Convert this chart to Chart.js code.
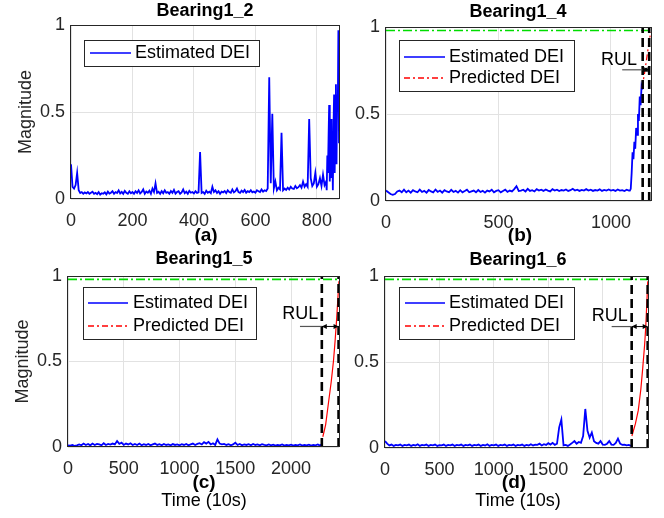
<!DOCTYPE html>
<html>
<head>
<meta charset="utf-8">
<script src="https://cdn.jsdelivr.net/npm/chart.js@4.4.1/dist/chart.umd.min.js"></script>
<style>
  html, body { margin: 0; padding: 0; background: #fff; }
  body { width: 664px; height: 518px; position: relative; overflow: hidden;
         font-family: "Liberation Sans", Arial, Helvetica, sans-serif; }
  canvas { position: absolute; }
  .lbl { position: absolute; white-space: nowrap; line-height: 1; color: #000;
         transform: translateX(-50%); }
</style>
</head>
<body>
<canvas id="c-a"></canvas>
<canvas id="c-b"></canvas>
<canvas id="c-c"></canvas>
<canvas id="c-d"></canvas>
<script>
// Four MATLAB-style degradation panels (estimated / predicted DEI with RUL marks).

// --------------- Data ---------------

const TITLES = ["Bearing1_2", "Bearing1_4", "Bearing1_5", "Bearing1_6"];
const SUBLABELS = ["(a)", "(b)", "(c)", "(d)"];
const X_LABEL = "Time (10s)";
const Y_LABEL = "Magnitude";
const LEGEND_EST = "Estimated DEI";
const LEGEND_PRED = "Predicted DEI";
const THRESHOLD = 0.98;

const Y_TICKS = [0, 0.5, 1];
const Y_TICK_LABELS = ["0", "0.5", "1"];
const B12_X_TICKS = [0, 200, 400, 600, 800];
const B14_X_TICKS = [0, 500, 1000];
const LONG_X_TICKS = [0, 500, 1000, 1500, 2000];

// Bearing1_2: every 5 samples up to 825, then every 2 samples.
const B12_STEP = 5;
const b12Dei = [
  0.20, 0.07, 0.06, 0.08, 0.15, 0.05, 0.035, 0.04, 0.03, 0.038,
  0.032, 0.04, 0.03, 0.036, 0.042, 0.03, 0.035, 0.028, 0.04, 0.025,
  0.033, 0.03, 0.038, 0.027, 0.042, 0.031, 0.036, 0.045, 0.03, 0.04,
  0.035, 0.05, 0.032, 0.041, 0.03, 0.047, 0.036, 0.03, 0.044, 0.033,
  0.04, 0.03, 0.045, 0.035, 0.05, 0.032, 0.04, 0.055, 0.03, 0.043,
  0.036, 0.048, 0.03, 0.06, 0.04, 0.09, 0.035, 0.042, 0.03, 0.045,
  0.033, 0.05, 0.036, 0.04, 0.03, 0.046, 0.035, 0.052, 0.031, 0.04,
  0.045, 0.03, 0.038, 0.055, 0.033, 0.042, 0.03, 0.047, 0.036, 0.04,
  0.032, 0.045, 0.035, 0.038, 0.27, 0.035, 0.04, 0.03, 0.048, 0.036,
  0.042, 0.033, 0.07, 0.04, 0.05, 0.035, 0.045, 0.03, 0.042, 0.038,
  0.046, 0.034, 0.05, 0.04, 0.036, 0.055, 0.038, 0.045, 0.06, 0.04,
  0.035, 0.048, 0.04, 0.052, 0.036, 0.045, 0.04, 0.05, 0.038, 0.043,
  0.036, 0.05, 0.045, 0.04, 0.055, 0.042, 0.05, 0.046, 0.06, 0.70,
  0.09, 0.49, 0.06, 0.1, 0.05, 0.065, 0.055, 0.38, 0.05, 0.06,
  0.052, 0.065, 0.055, 0.07, 0.06, 0.058, 0.075, 0.062, 0.068, 0.08,
  0.065, 0.1, 0.07, 0.085, 0.07, 0.46, 0.12, 0.075, 0.09, 0.15,
  0.07, 0.085, 0.12, 0.075, 0.14, 0.08,
];
const B12_TAIL_START = 830;
const B12_TAIL_STEP = 2;
const b12Tail = [
  0.1, 0.05, 0.25, 0.15, 0.35, 0.54, 0.1, 0.3, 0.46, 0.12, 0.3,
  0.05, 0.4, 0.6, 0.15, 0.45, 0.66, 0.2, 0.6, 0.5, 0.97, 0.32,
];

// Bearing1_4
const B14_STEP = 10;
const b14Dei = [
  0.06, 0.05, 0.04, 0.035, 0.04, 0.055, 0.06, 0.05, 0.065, 0.05,
  0.06, 0.048, 0.062, 0.055, 0.05, 0.065, 0.052, 0.058, 0.048, 0.063,
  0.055, 0.05, 0.066, 0.052, 0.06, 0.048, 0.062, 0.055, 0.05, 0.064,
  0.052, 0.058, 0.048, 0.062, 0.05, 0.057, 0.065, 0.05, 0.055, 0.06,
  0.05, 0.063, 0.052, 0.058, 0.048, 0.06, 0.055, 0.065, 0.05, 0.058,
  0.062, 0.05, 0.058, 0.065, 0.052, 0.06, 0.055, 0.068, 0.085, 0.058,
  0.06, 0.065, 0.055, 0.07, 0.058, 0.062, 0.055, 0.068, 0.06, 0.065,
  0.058, 0.066, 0.06, 0.055, 0.068, 0.06, 0.065, 0.057, 0.063, 0.06,
  0.066, 0.058, 0.062, 0.07, 0.06, 0.065, 0.058, 0.064, 0.06, 0.068,
  0.06, 0.065, 0.058, 0.063, 0.06, 0.067, 0.058, 0.064, 0.06, 0.066,
  0.06, 0.064, 0.058, 0.066, 0.06, 0.062, 0.057, 0.065, 0.06,
];
const B14_TAIL_START = 1084;
const B14_TAIL_STEP = 4;
const b14Tail = [0.06, 0.07, 0.16, 0.28, 0.24, 0.34, 0.3, 0.42, 0.38, 0.5, 0.46, 0.6, 0.55, 0.66, 0.64];
const b14PredX = [1138, 1150, 1160, 1170, 1177];
const b14PredY = [0.65, 0.74, 0.83, 0.92, 0.97];

// Bearing1_5
const B15_STEP = 20;
const b15Dei = [
  0.01, 0.008, 0.012, 0.006, 0.01, 0.015, 0.01, 0.02, 0.012, 0.018,
  0.01, 0.02, 0.012, 0.018, 0.015, 0.01, 0.022, 0.012, 0.018, 0.014,
  0.02, 0.015, 0.035, 0.018, 0.025, 0.012, 0.02, 0.015, 0.022, 0.012,
  0.018, 0.012, 0.02, 0.01, 0.016, 0.012, 0.018, 0.01, 0.015, 0.02,
  0.012, 0.016, 0.01, 0.018, 0.012, 0.015, 0.01, 0.017, 0.012, 0.015,
  0.01, 0.016, 0.012, 0.018, 0.01, 0.015, 0.02, 0.012, 0.018, 0.022,
  0.015, 0.028, 0.02, 0.03, 0.015, 0.022, 0.012, 0.045, 0.02, 0.015,
  0.018, 0.012, 0.016, 0.01, 0.015, 0.025, 0.012, 0.018, 0.01, 0.015,
  0.012, 0.016, 0.01, 0.018, 0.012, 0.015, 0.01, 0.016, 0.012, 0.01,
  0.015, 0.01, 0.014, 0.008, 0.012, 0.01, 0.015, 0.008, 0.012, 0.01,
  0.014, 0.008, 0.012, 0.01, 0.015, 0.008, 0.012, 0.01, 0.014, 0.008,
  0.012, 0.01, 0.015, 0.008, 0.02,
];
const b15PredX = [2285, 2310, 2336, 2360, 2380, 2395, 2410, 2420, 2430];
const b15PredY = [0.06, 0.13, 0.26, 0.38, 0.5, 0.62, 0.76, 0.87, 0.97];

// Bearing1_6
const B16_STEP = 20;
const b16Dei = [
  0.04, 0.025, 0.015, 0.02, 0.012, 0.018, 0.015, 0.02, 0.012, 0.018,
  0.015, 0.02, 0.012, 0.018, 0.015, 0.022, 0.012, 0.018, 0.015, 0.02,
  0.012, 0.018, 0.015, 0.02, 0.012, 0.017, 0.015, 0.02, 0.012, 0.018,
  0.015, 0.02, 0.012, 0.018, 0.015, 0.02, 0.012, 0.018, 0.015, 0.02,
  0.012, 0.018, 0.015, 0.02, 0.012, 0.018, 0.015, 0.022, 0.012, 0.018,
  0.015, 0.02, 0.012, 0.018, 0.015, 0.02, 0.012, 0.018, 0.015, 0.02,
  0.012, 0.018, 0.015, 0.02, 0.012, 0.018, 0.015, 0.022, 0.015, 0.02,
  0.018, 0.025, 0.015, 0.022, 0.018, 0.028, 0.02, 0.03, 0.018, 0.025,
  0.12, 0.165, 0.015, 0.018, 0.012, 0.02, 0.03, 0.04, 0.025, 0.035,
  0.03, 0.07, 0.227, 0.1, 0.06, 0.09, 0.04, 0.03, 0.025, 0.04,
  0.02, 0.018, 0.025, 0.04, 0.02, 0.018, 0.03, 0.055, 0.025, 0.018,
  0.02, 0.015, 0.018, 0.012,
];
const b16PredX = [2268, 2300, 2327, 2350, 2367, 2385, 2395, 2405, 2414];
const b16PredY = [0.07, 0.14, 0.22, 0.34, 0.46, 0.6, 0.7, 0.84, 0.97];

// RUL marks: [pointer start, prediction time, failure time], arrow level, label.
const b14Rul = [1050, 1141, 1170];
const b15Rul = [2080, 2276, 2426];
const b16Rul = [2082, 2266, 2413];
const b14RulLevel = 0.754, b15RulLevel = 0.705, b16RulLevel = 0.706;
const b14RulLabel = [1116, 0.811], b15RulLabel = [2245, 0.78], b16RulLabel = [2229, 0.77];

// --------------- Helpers ---------------

const FONT = "'Liberation Sans', Arial, Helvetica, sans-serif";
const AXIS = "#262626";
const GRID = "#e2e2e2";
const BLUE = "#0000ff", RED = "#ff0000", GREEN = "#00dd00";
const PRED_DASH = [6, 3, 2, 3];

Chart.defaults.font.family = FONT;
Chart.defaults.font.size = 18;
Chart.defaults.color = AXIS;

function stepSeries(start, step, values) {
  return values.map((v, i) => ({ x: start + i * step, y: v }));
}
function pairs(xs, ys) {
  return xs.map((x, i) => ({ x, y: ys[i] }));
}
function vline(x) { return [{ x, y: 0 }, { x, y: 1 }]; }
function hline(x0, x1, y) { return [{ x: x0, y }, { x: x1, y }]; }

function ds(label, data, color, width, dash, order, legendDash) {
  return {
    label, data, borderColor: color, backgroundColor: color, borderWidth: width,
    borderDash: dash, order, legendDash,
    pointRadius: 0, pointHoverRadius: 0, tension: 0, fill: false,
  };
}

function rulSets(rul, xMax) {
  return [
    ds("thr", hline(0, xMax, THRESHOLD), GREEN, 1.7, [9, 3, 2, 3], 3),
    ds("t0", vline(rul[1]), "#000", 2.6, [9, 5], 1),
    ds("t1", vline(rul[2]), "#000", 2.6, [9, 5], 1),
  ];
}

// --------------- Plugins ---------------

const frame = {
  id: "frame",
  afterDatasetsDraw(chart) {
    const { ctx, chartArea: a } = chart;
    ctx.save();
    ctx.strokeStyle = AXIS;
    ctx.lineWidth = 1;
    ctx.strokeRect(Math.round(a.left) - 0.5, Math.round(a.top) + 0.5,
                   Math.round(a.right - a.left) + 1, Math.round(a.bottom - a.top) - 1);
    ctx.restore();
  },
};

const rulMarks = {
  id: "rulMarks",
  afterDatasetsDraw(chart, args, o) {
    if (!o || !o.rul) return;
    const { ctx } = chart;
    const xs = chart.scales.x, ys = chart.scales.y;
    const px = v => xs.getPixelForValue(v);
    const y = ys.getPixelForValue(o.level);
    const x0 = px(o.rul[1]), x1 = px(o.rul[2]);
    ctx.save();
    ctx.strokeStyle = "#555";
    ctx.lineWidth = 1.2;
    ctx.beginPath(); ctx.moveTo(px(o.rul[0]), y); ctx.lineTo(x0, y); ctx.stroke();
    ctx.strokeStyle = "#000"; ctx.fillStyle = "#000"; ctx.lineWidth = 1;
    ctx.beginPath(); ctx.moveTo(x0, y); ctx.lineTo(x1, y); ctx.stroke();
    const head = (x, dir) => {
      ctx.beginPath();
      ctx.moveTo(x, y); ctx.lineTo(x + dir * 5, y - 2.5); ctx.lineTo(x + dir * 5, y + 2.5);
      ctx.closePath(); ctx.fill();
    };
    head(x0, 1); head(x1, -1);
    ctx.font = "18px " + FONT;
    ctx.textAlign = "right"; ctx.textBaseline = "middle";
    ctx.fillText("RUL", px(o.label[0]), ys.getPixelForValue(o.label[1]));
    ctx.restore();
  },
};

const legendBox = {
  id: "legendBox",
  afterDatasetsDraw(chart, args, o) {
    const { ctx, chartArea: a } = chart;
    const items = chart.data.datasets.filter(d => d.legendDash);
    const x = Math.round(a.left + o.dx), y = Math.round(a.top + o.dy);
    ctx.save();
    ctx.fillStyle = "#fff";
    ctx.fillRect(x, y, o.w, o.h);
    ctx.strokeStyle = AXIS; ctx.lineWidth = 1;
    ctx.strokeRect(x + 0.5, y + 0.5, o.w, o.h);
    ctx.font = "18px " + FONT;
    ctx.textBaseline = "middle"; ctx.textAlign = "left";
    items.forEach((d, i) => {
      const cy = y + o.rows[i];
      ctx.strokeStyle = d.borderColor;
      ctx.lineWidth = 1.3;
      ctx.setLineDash(d.legendDash);
      ctx.beginPath(); ctx.moveTo(x + o.line[0], cy); ctx.lineTo(x + o.line[1], cy); ctx.stroke();
      ctx.setLineDash([]);
      ctx.fillStyle = "#000";
      ctx.fillText(d.label, x + o.textX, cy);
    });
    ctx.restore();
  },
};

// --------------- Panels ---------------

const PANELS = [
  {
    id: "c-a", box: [0, 0, 345, 245], area: [71, 25, 339, 199], xMax: 872, xTicks: B12_X_TICKS,
    yTitlePad: 15,
    datasets: [
      ds(LEGEND_EST, stepSeries(0, B12_STEP, b12Dei).concat(stepSeries(B12_TAIL_START, B12_TAIL_STEP, b12Tail)),
         BLUE, 1.8, [], 5, [1, 0]),
    ],
    legend: { dx: 13, dy: 15, w: 175, h: 26, rows: [13], line: [6, 47], textX: 51 },
    rul: null,
    title: [205, 16], sub: [206, 241], xlabel: null,
  },
  {
    id: "c-b", box: [345, 0, 319, 245], area: [386, 27, 651, 201], xMax: 1178, xTicks: B14_X_TICKS,
    yTitlePad: null,
    datasets: [
      ds(LEGEND_EST, stepSeries(0, B14_STEP, b14Dei).concat(stepSeries(B14_TAIL_START, B14_TAIL_STEP, b14Tail)),
         BLUE, 1.8, [], 5, [1, 0]),
      ds(LEGEND_PRED, pairs(b14PredX, b14PredY), RED, 1.2, PRED_DASH, 4, PRED_DASH),
      ...rulSets(b14Rul, 1178),
    ],
    legend: { dx: 13, dy: 13, w: 175, h: 51, rows: [17, 38], line: [5, 46], textX: 50 },
    rul: { rul: b14Rul, level: b14RulLevel, label: b14RulLabel },
    title: [518, 17], sub: [520, 241], xlabel: null,
  },
  {
    id: "c-c", box: [0, 245, 345, 273], area: [68, 276, 339, 447], xMax: 2430, xTicks: LONG_X_TICKS,
    yTitlePad: 12,
    datasets: [
      ds(LEGEND_EST, stepSeries(0, B15_STEP, b15Dei), BLUE, 1.8, [], 5, [1, 0]),
      ds(LEGEND_PRED, pairs(b15PredX, b15PredY), RED, 1.2, [], 4, PRED_DASH),
      ...rulSets(b15Rul, 2430),
    ],
    legend: { dx: 15, dy: 11, w: 173, h: 52, rows: [16, 39], line: [5, 45], textX: 50 },
    rul: { rul: b15Rul, level: b15RulLevel, label: b15RulLabel },
    title: [204, 264], sub: [204, 488], xlabel: [204, 506],
  },
  {
    id: "c-d", box: [345, 245, 319, 273], area: [385, 276, 648, 448], xMax: 2416, xTicks: LONG_X_TICKS,
    yTitlePad: null,
    datasets: [
      ds(LEGEND_EST, stepSeries(0, B16_STEP, b16Dei), BLUE, 1.8, [], 5, [1, 0]),
      ds(LEGEND_PRED, pairs(b16PredX, b16PredY), RED, 1.2, [], 4, PRED_DASH),
      ...rulSets(b16Rul, 2416),
    ],
    legend: { dx: 14, dy: 11, w: 175, h: 52, rows: [16, 39], line: [6, 46], textX: 50 },
    rul: { rul: b16Rul, level: b16RulLevel, label: b16RulLabel },
    title: [518, 265], sub: [514, 488], xlabel: [518, 506],
  },
];

function addLabel(text, cx, baseline, size, bold) {
  const el = document.createElement("div");
  el.className = "lbl";
  el.textContent = text;
  el.style.fontSize = size + "px";
  el.style.fontWeight = bold ? "bold" : "normal";
  el.style.left = cx + "px";
  el.style.top = (baseline - 0.847 * size) + "px";
  document.body.appendChild(el);
}

PANELS.forEach((p, i) => {
  const [bx, by, bw, bh] = p.box;
  const [L, T, R, B] = p.area;
  const cv = document.getElementById(p.id);
  cv.width = bw; cv.height = bh;
  cv.style.left = bx + "px"; cv.style.top = by + "px";
  cv.style.width = bw + "px"; cv.style.height = bh + "px";
  const yW = L - bx, xH = by + bh - B;

  new Chart(cv.getContext("2d"), {
    type: "line",
    data: { datasets: p.datasets },
    plugins: [frame, rulMarks, legendBox],
    options: {
      responsive: false,
      animation: false,
      layout: { padding: { left: 0, top: T - by, right: bx + bw - R, bottom: 0 } },
      plugins: {
        legend: { display: false },
        tooltip: { enabled: false },
        rulMarks: p.rul || {},
        legendBox: p.legend,
      },
      scales: {
        x: {
          type: "linear", min: 0, max: p.xMax,
          afterBuildTicks: s => { s.ticks = p.xTicks.map(v => ({ value: v })); },
          ticks: { autoSkip: false, maxRotation: 0, padding: 11, callback: (v, k) => String(p.xTicks[k]) },
          grid: { color: GRID, drawTicks: false },
          border: { display: false },
          afterFit: s => { s.height = xH; },
        },
        y: {
          type: "linear", min: 0, max: 1,
          afterBuildTicks: s => { s.ticks = Y_TICKS.map(v => ({ value: v })); },
          ticks: { padding: 6, callback: (v, k) => Y_TICK_LABELS[k] },
          grid: { color: GRID, drawTicks: false },
          border: { display: false },
          title: { display: p.yTitlePad !== null, text: Y_LABEL, color: AXIS,
                   padding: { top: p.yTitlePad || 0, bottom: 0 } },
          afterFit: s => { s.width = yW; },
        },
      },
    },
  });

  addLabel(TITLES[i], p.title[0], p.title[1], 18, true);
  addLabel(SUBLABELS[i], p.sub[0], p.sub[1], 19, true);
  if (p.xlabel) addLabel(X_LABEL, p.xlabel[0], p.xlabel[1], 18, false);
});
</script>
</body>
</html>
